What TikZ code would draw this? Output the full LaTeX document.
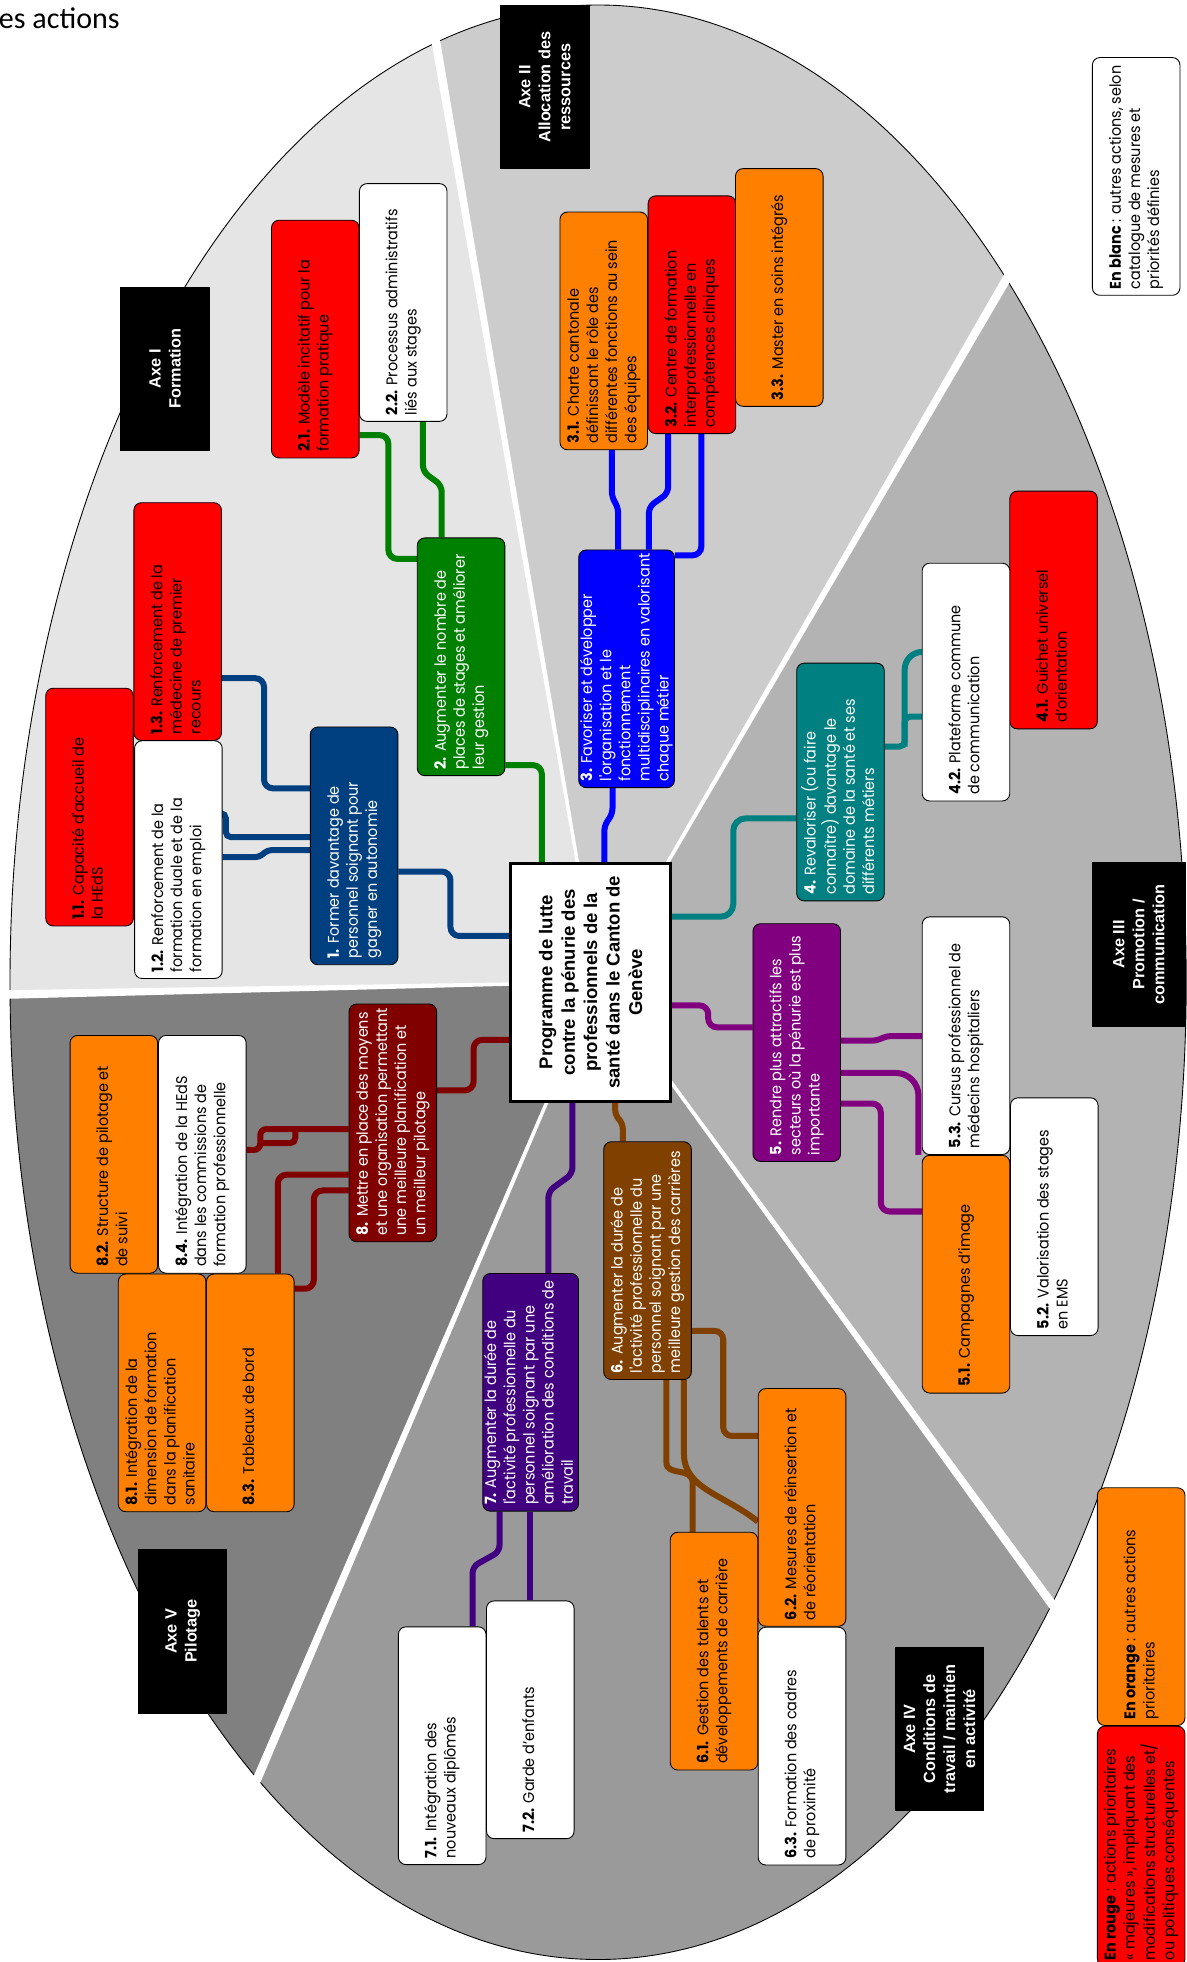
\documentclass[tikz,border=0pt]{standalone}
\usepackage{fontspec}
\newfontfamily\gothfont[FakeStretch=0.93]{Poppins}
\newfontfamily\arialfont{Liberation Sans}
\newfontfamily\titlefont{Carlito}
\usetikzlibrary{calc}
\pgfdeclarelayer{back}
\pgfdeclarelayer{wires}
\pgfsetlayers{back,wires,main}
\definecolor{cred}{HTML}{FF0000}
\definecolor{corange}{HTML}{FF8000}
\definecolor{cnavy}{HTML}{004080}
\definecolor{cgreen}{HTML}{008000}
\definecolor{cblue}{HTML}{0000FF}
\definecolor{cteal}{HTML}{008080}
\definecolor{cpurple}{HTML}{800080}
\definecolor{cbrown}{HTML}{804000}
\definecolor{cindigo}{HTML}{400080}
\definecolor{cmaroon}{HTML}{800000}
\definecolor{sI}{HTML}{E5E5E5}
\definecolor{sII}{HTML}{CCCCCC}
\definecolor{sIII}{HTML}{B3B3B3}
\definecolor{sIV}{HTML}{9A9A9A}
\definecolor{sV}{HTML}{808080}
\newcommand\actfont{\gothfont\fontsize{12.4}{15.3}\selectfont}
\newcommand\bt[1]{\makebox[180pt][l]{\begin{tabular}{@{}l@{}}#1\end{tabular}}}
\begin{document}
\begin{tikzpicture}[x=1pt,y=-1pt,
  con/.style={line width=4.8pt, rounded corners=7pt},
  bx/.style={rotate=90, draw=black, line width=0.7pt, rounded corners=6pt,
    minimum width=190pt, minimum height=70pt, inner xsep=5pt, inner ysep=0pt,
    font=\actfont},
  act/.style={bx, text=black},
  goal/.style={bx, text=white},
  axe/.style={rotate=90, fill=black, inner sep=0pt, align=center, text=white,
    font=\arialfont\bfseries\fontsize{13}{16}\selectfont,
    minimum width=131.5pt, minimum height=71.5pt}]
\useasboundingbox (0,0) rectangle (948,1568);
\begin{pgfonlayer}{back}
\fill[white] (0,0) rectangle (948,1568);
\coordinate (C) at (478,785);
\begin{scope}
\clip (478,785) ellipse [x radius=470, y radius=781];
\fill[sI] (C) -- (-700,810) -- (-700,-800) -- (275.3,-390.4) -- cycle;
\fill[sII] (C) -- (275.3,-390.4) -- (1103.7,-292.3) -- cycle;
\fill[sIII] (C) -- (1103.7,-292.3) -- (1700,785) -- (1171.9,1735.8) -- cycle;
\fill[sIV] (C) -- (1171.9,1735.8) -- (8.6,1881.8) -- cycle;
\fill[sV] (C) -- (8.6,1881.8) -- (-700,1800) -- (-700,810) -- cycle;
\end{scope}
\draw[line width=0.7pt] (478,785) ellipse [x radius=470, y radius=781];
\coordinate (o1) at (347.2,26.7);
\coordinate (o2) at (807.3,218);
\coordinate (o3) at (843.2,1285.4);
\coordinate (o4) at (201.9,1430.2);
\coordinate (o5) at (-5,795);
\foreach \o in {o1,o2,o3,o4,o5}
  \fill[white] ($(C)!1pt!90:(\o)$) -- ($(\o)!3.5pt!-90:(C)$) -- ($(\o)!3.5pt!90:(C)$) -- ($(C)!1pt!-90:(\o)$) -- cycle;
\end{pgfonlayer}
% ---------- title fragment ----------
\node[anchor=base west, inner sep=0pt, font=\titlefont\fontsize{24}{28}\selectfont] (title) at (-1,22.7) {es actions};
% ---------- centre and goal boxes ----------
\node[rotate=90, draw, line width=2.2pt, fill=white, minimum width=190pt, minimum height=128pt, inner sep=0pt, align=center,
  font=\arialfont\bfseries\fontsize{14.8}{17.9}\selectfont] (prog) at (472,785)
  {Programme de lutte\\contre la pénurie des\\professionnels de la\\santé dans le Canton de\\Genève};
\node[goal, fill=cnavy] (b1) at (283,676) {\bt{\textbf{1.} Former davantage de\\personnel soignant pour\\gagner en autonomie}};
\node[goal, fill=cgreen] (b2) at (368.5,524.9) {\bt{\textbf{2.} Augmenter le nombre de\\places de stages et améliorer\\leur gestion}};
\node[goal, fill=cblue] (b3) at (500.75,534.5) {\bt{\textbf{3.} Favoriser et développer\\l'organisation et le\\fonctionnement\\multidisciplinaires en valorisant\\chaque métier}};
\node[goal, fill=cteal] (b4) at (671.7,625) {\bt{\textbf{4.} Revaloriser (ou faire\\connaître) davantage le\\domaine de la santé et ses\\différents métiers}};
\node[goal, fill=cpurple] (b5) at (636.75,833.2) {\bt{\textbf{5.} Rendre plus attractifs les\\secteurs où la pénurie est plus\\importante}};
\node[goal, fill=cbrown] (b6) at (517.5,1007.5) {\bt{\textbf{6.} Augmenter la durée de\\l'activité professionnelle du\\personnel soignant par une\\meilleure gestion des carrières}};
\node[goal, fill=cindigo] (b7) at (424.1,1112.7) {\bt{\textbf{7.} Augmenter la durée de\\l'activité professionnelle du\\personnel soignant par une\\amélioration des conditions de\\travail}};
\node[goal, fill=cmaroon] (b8) at (313.95,897.4) {\bt{\textbf{8.} Mettre en place des moyens\\et une organisation permettant\\une meilleure planification et\\un meilleur pilotage}};
% ---------- action boxes ----------
\node[act, fill=cred] (b11) at (71.55,645) {\bt{\textbf{1.1.} Capacité d'accueil de\\la HEdS}};
\node[act, fill=white] (b12) at (142.55,687) {\bt{\textbf{1.2.} Renforcement de la\\formation duale et de la\\formation en emploi}};
\node[act, fill=cred] (b13) at (142,496.75) {\bt{\textbf{1.3.} Renforcement de la\\médecine de premier\\recours}};
\node[act, fill=cred] (b21) at (252,271) {\bt{\textbf{2.1.} Modèle incitatif pour la\\formation pratique}};
\node[act, fill=white] (b22) at (322.25,241.75) {\bt{\textbf{2.2.} Processus administratifs\\liés aux stages}};
\node[act, fill=corange] (b31) at (482.5,264.45) {\bt{\textbf{3.1.} Charte cantonale\\définissant le rôle des\\différentes fonctions au sein\\des équipes}};
\node[act, fill=cred] (b32) at (553,251.55) {\bt{\textbf{3.2.} Centre de formation\\interprofessionnelle en\\compétences cliniques}};
\node[act, fill=corange] (b33) at (622.8,229.75) {\bt{\textbf{3.3.} Master en soins intégrés}};
\node[act, fill=cred] (b41) at (842,487.5) {\bt{\textbf{4.1.} Guichet universel\\d’orientation}};
\node[act, fill=white] (b42) at (772,545.1) {\bt{\textbf{4.2.} Plateforme commune\\de communication}};
\node[act, fill=corange] (b51) at (772,1018.3) {\bt{\textbf{5.1.} Campagnes d’image}};
\node[act, fill=white] (b52) at (842.55,972.35) {\bt{\textbf{5.2.} Valorisation des stages\\en EMS}};
\node[act, fill=white] (b53) at (772,827.7) {\bt{\textbf{5.3.} Cursus professionnel de\\médecins hospitaliers}};
\node[act, fill=corange] (b61) at (570.65,1319.55) {\bt{\textbf{6.1.} Gestion des talents et\\développements de carrière}};
\node[act, fill=corange] (b62) at (641,1204.7) {\bt{\textbf{6.2.} Mesures de réinsertion et\\de réorientation}};
\node[act, fill=white] (b63) at (641,1395.45) {\bt{\textbf{6.3.} Formation des cadres\\de proximité}};
\node[act, fill=white] (b71) at (353.4,1395.15) {\bt{\textbf{7.1.} Intégration des\\nouveaux diplômés}};
\node[act, fill=white] (b72) at (423.8,1374.4) {\bt{\textbf{7.2.} Garde d’enfants}};
\node[act, fill=corange] (b82) at (91,922.5) {\bt{\textbf{8.2.} Structure de pilotage et\\de suivi}};
\node[act, fill=white] (b84) at (161.7,922.5) {\bt{\textbf{8.4.} Intégration de la HEdS\\dans les commissions de\\formation professionnelle}};
\node[act, fill=corange] (b81) at (129.55,1113.15) {\bt{\textbf{8.1.} Intégration de la\\dimension de formation\\dans la planification\\sanitaire}};
\node[act, fill=corange] (b83) at (200.05,1113.15) {\bt{\textbf{8.3.} Tableaux de bord}};
% ---------- connectors (below the boxes) ----------
\begin{pgfonlayer}{wires}
\begin{scope}[con, draw=cnavy]
\draw (b1.south |- 0,696.5) -- (360,696.5) -- (360,748) -- (prog.north |- 0,748);
\draw (b13.south |- 0,542) -- (211,542) -- (211,630) -- (b1.north |- 0,630);
\draw[rounded corners=4pt] (b12.south |- 0,650) -- (180.5,650) -- (180.5,669) -- (b1.north |- 0,669);
\draw[rounded corners=3pt] (b12.south |- 0,685) -- (207,685) -- (214,679.4) -- (b1.north |- 0,679.4);
\end{scope}
\begin{scope}[con, draw=cgreen]
\draw (b2.south |- 0,611.5) -- (433,611.5) -- (433,0 |- prog.east);
\draw (b21.south |- 0,347.7) -- (310.4,347.7) -- (310.4,446.6) -- (b2.north |- 0,446.6);
\draw[rounded corners=5pt] (338,0 |- b22.west) -- (338,377) -- (353,388) -- (353,0 |- b2.east);
\end{scope}
\begin{scope}[con, draw=cblue]
\draw[rounded corners=4pt] (489.5,0 |- b3.west) -- (489.5,650) -- (483,660) -- (483,0 |- prog.east);
\draw[rounded corners=4pt] (494,0 |- b3.east) -- (494,406) -- (489,397) -- (489,0 |- b31.west);
\draw[rounded corners=5pt] (518.6,0 |- b3.east) -- (518.6,405) -- (534,394) -- (534,0 |- b32.west);
\draw (b3.south |- 0,443.8) -- (560.5,443.8) -- (560.5,0 |- b32.west);
\end{scope}
\begin{scope}[con, draw=cteal]
\draw[rounded corners=10pt] (prog.south |- 0,732.6) -- (586,732.6) -- (586,654) -- (b4.north |- 0,654);
\draw[rounded corners=4pt] (b4.south |- 0,596.6) -- (723,596.6) -- (723,572.8) -- (b42.north |- 0,572.8);
\draw[rounded corners=14pt] (723,596.6) -- (723,521) -- (b42.north |- 0,521);
\end{scope}
\begin{scope}[con, draw=cpurple]
\draw (prog.south |- 0,803.5) -- (566,803.5) -- (566,821) -- (b5.north |- 0,821);
\draw[rounded corners=3pt] (b5.south |- 0,831.7) -- (700,831.7) -- (709,828) -- (b53.north |- 0,828);
\draw[rounded corners=18pt] (b5.south |- 0,857.5) -- (734,857.5) -- (734,0 |- b51.east);
\draw (b5.south |- 0,881.9) -- (703.9,881.9) -- (703.9,968.2) -- (b51.north |- 0,968.2);
\end{scope}
\begin{scope}[con, draw=cbrown]
\draw[rounded corners=4pt] (491.6,0 |- prog.west) -- (491.6,891) -- (497.7,898) -- (497.7,0 |- b6.east);
\draw (b6.south |- 0,1063.6) -- (578,1063.6) -- (578,1147.6) -- (b62.north |- 0,1147.6);
\draw (532.6,0 |- b6.west) -- (532.6,1162) .. controls (532.6,1180) and (553.5,1172) .. (553.5,1192) -- (553.5,0 |- b61.east);
\draw (546.6,0 |- b6.west) -- (546.6,1155) .. controls (546.6,1190) and (580,1195) .. (b62.north |- 0,1216);
\end{scope}
\begin{scope}[con, draw=cindigo]
\draw[rounded corners=5pt] (457.5,0 |- prog.west) -- (457.5,938) -- (438.3,952) -- (438.3,0 |- b7.east);
\draw[rounded corners=5pt] (399.2,0 |- b7.west) -- (399.2,1240) -- (377.7,1252) -- (377.7,0 |- b71.east);
\draw (423.6,0 |- b7.west) -- (423.6,0 |- b72.east);
\end{scope}
\begin{scope}[con, draw=cmaroon]
\draw (prog.north |- 0,831) -- (378.5,831) -- (378.5,871.4) -- (b8.south |- 0,871.4);
\draw[rounded corners=5pt] (b8.north |- 0,902.3) -- (208,902.3) -- (208,919) -- (b84.south |- 0,919);
\draw[rounded corners=4pt] (208,913.5) -- (236,913.5) -- (236,902.3);
\draw (b8.north |- 0,938.8) -- (222,938.8) -- (222,0 |- b83.east);
\draw (b8.north |- 0,951.4) -- (250.8,951.4) -- (250.8,1029.9) -- (b83.south |- 0,1029.9);
\end{scope}
\end{pgfonlayer}
% ---------- legends ----------
\node[act, fill=white] (lblanc) at (908,141) {\bt{\textbf{En blanc} : autres actions, selon\\catalogue de mesures et\\priorités définies}};
\node[act, fill=corange] (lorange) at (912,1284) {\bt{\textbf{En orange} : autres actions\\prioritaires}};
\node[act, fill=cred, minimum width=192pt] (lrouge) at (912,1475.5) {\makebox[182pt][l]{\begin{tabular}{@{}l@{}}\textbf{En rouge} : actions prioritaires\\« majeures », impliquant des\\modifications structurelles et/\\ou politiques conséquentes\end{tabular}}};
% ---------- axes ----------
\node[axe] (ax1) at (132,294.75) {Axe I\\Formation};
\node[axe] (ax2) at (435.5,69.65) {Axe II\\Allocation des\\ressources};
\node[axe, minimum height=75.6pt] (ax3) at (910.2,754.75) {Axe III\\Promotion /\\communication};
\node[axe] (ax4) at (750.9,1381.85) {Axe IV\\Conditions de\\travail / maintien\\en activité};
\node[axe] (ax5) at (146,1303.65) {Axe V\\Pilotage};
\end{tikzpicture}
\end{document}
